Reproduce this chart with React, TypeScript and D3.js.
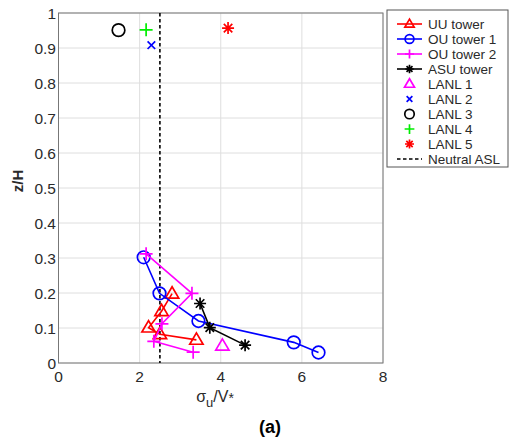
import React from "react";
import * as d3 from "d3";

const uuX = [3.4, 2.5, 2.22, 2.54, 2.8];
const uuY = [0.066, 0.082, 0.101, 0.148, 0.198];
const ou1X = [2.1, 2.49, 3.45, 5.8, 6.41];
const ou1Y = [0.302, 0.199, 0.12, 0.059, 0.03];
const ou2X = [2.16, 3.29, 2.55, 2.35, 3.32];
const ou2Y = [0.312, 0.199, 0.112, 0.062, 0.031];
const asuX = [3.49, 3.73, 4.6];
const asuY = [0.17, 0.101, 0.051];
const lanlNames = ["LANL 1", "LANL 2", "LANL 3", "LANL 4", "LANL 5"];
const lanlX = [4.04, 2.29, 1.48, 2.16, 4.18];
const lanlY = [0.049, 0.908, 0.951, 0.952, 0.957];
const neutralX = 2.5;
const xTicks = [0, 2, 4, 6, 8];
const yTicks = [0, 0.1, 0.2, 0.3, 0.4, 0.5, 0.6, 0.7, 0.8, 0.9, 1];
const yTickLabels = ["0", "0.1", "0.2", "0.3", "0.4", "0.5", "0.6", "0.7", "0.8", "0.9", "1"];

const L = 58.5, R = 383, T = 13, B = 363;
const x = d3.scaleLinear().domain([0, 8]).range([L, R]);
const y = d3.scaleLinear().domain([0, 1]).range([B, T]);

const RED = "#ff0000", BLUE = "#0000ff", MAG = "#ff00ff", BLK = "#000000", GRN = "#00ee00";

type MK = "tri" | "circ" | "plus" | "star" | "x";

function Marker({ kind, cx, cy, color, s = 1 }: { kind: MK; cx: number; cy: number; color: string; s?: number }) {
  const sw = 1.7;
  if (kind === "tri") {
    const r = 7 * s;
    const p = `${cx},${cy - r} ${cx + r * 0.95},${cy + r * 0.62} ${cx - r * 0.95},${cy + r * 0.62}`;
    return <polygon points={p} fill="none" stroke={color} strokeWidth={sw} />;
  }
  if (kind === "circ") return <circle cx={cx} cy={cy} r={6.3 * s} fill="none" stroke={color} strokeWidth={sw} />;
  if (kind === "plus") {
    const r = 6.5 * s;
    return <path d={`M${cx - r},${cy}H${cx + r}M${cx},${cy - r}V${cy + r}`} stroke={color} strokeWidth={sw} />;
  }
  if (kind === "x") {
    const r = 3.8 * s;
    return <path d={`M${cx - r},${cy - r}L${cx + r},${cy + r}M${cx - r},${cy + r}L${cx + r},${cy - r}`} stroke={color} strokeWidth={sw} />;
  }
  const r = 6 * s;
  const d = [0, 45, 90, 135].map((a) => {
    const rad = (a * Math.PI) / 180;
    const dx = Math.cos(rad) * r, dy = Math.sin(rad) * r;
    return `M${cx - dx},${cy - dy}L${cx + dx},${cy + dy}`;
  }).join("");
  return <path d={d} stroke={color} strokeWidth={sw} />;
}

const series = [
  { name: "UU tower", xs: uuX, ys: uuY, color: RED, kind: "tri" as MK },
  { name: "OU tower 1", xs: ou1X, ys: ou1Y, color: BLUE, kind: "circ" as MK },
  { name: "OU tower 2", xs: ou2X, ys: ou2Y, color: MAG, kind: "plus" as MK },
  { name: "ASU tower", xs: asuX, ys: asuY, color: BLK, kind: "star" as MK },
];
const lanlStyle: { color: string; kind: MK }[] = [
  { color: MAG, kind: "tri" },
  { color: BLUE, kind: "x" },
  { color: BLK, kind: "circ" },
  { color: GRN, kind: "plus" },
  { color: RED, kind: "star" },
];

export default function App() {
  const line = d3.line<[number, number]>().x((d) => x(d[0])).y((d) => y(d[1]));
  const font = "Arial, Liberation Sans, sans-serif";
  const legX = 387, legY = 10, legW = 121, legH = 157, rowH = 15, row0 = 24;
  const txt = "#2a2a2a";
  const lfs = 13.5;
  return (
    <svg width={510} height={446} style={{ position: "absolute", left: 0, top: 0 }} fontFamily={font}>
      <rect width={510} height={446} fill="#fff" />
      {xTicks.map((t) => (
        <line key={"gx" + t} x1={x(t)} x2={x(t)} y1={T} y2={B} stroke="#dedede" strokeWidth={1} />
      ))}
      {yTicks.map((t) => (
        <line key={"gy" + t} x1={L} x2={R} y1={y(t)} y2={y(t)} stroke="#dedede" strokeWidth={1} />
      ))}
      <rect x={L} y={T} width={R - L} height={B - T} fill="none" stroke="#777" strokeWidth={1} />
      {xTicks.map((t) => (
        <text key={"tx" + t} x={x(t)} y={B + 19} textAnchor="middle" fontSize={15.5} fill={txt}>{t}</text>
      ))}
      {yTicks.map((t, i) => (
        <text key={"ty" + t} x={L - 2.5} y={y(t) + 5.5} textAnchor="end" fontSize={15.5} fill={txt}>{yTickLabels[i]}</text>
      ))}
      <text transform={`translate(23,${y(0.52)}) rotate(-90)`} textAnchor="middle" fontSize={15} fontWeight="bold" fill={txt}>z/H</text>
      <text x={215} y={402} textAnchor="middle" fontSize={16} fill={txt}>
        σ<tspan fontSize={13} dy={5}>u</tspan><tspan dy={-5}>/V</tspan><tspan fontSize={14} dy={1}>*</tspan>
      </text>
      <text x={270} y={433} textAnchor="middle" fontSize={18} fontWeight="bold" fill="#000">(a)</text>

      <line x1={x(neutralX)} x2={x(neutralX)} y1={T} y2={B} stroke="#000" strokeWidth={1.6} strokeDasharray="3.5,2.5" />

      {series.map((s) => (
        <g key={s.name}>
          <path d={line(s.xs.map((v, i) => [v, s.ys[i]]) as [number, number][]) || ""} fill="none" stroke={s.color} strokeWidth={1.6} />
          {s.xs.map((v, i) => (
            <Marker key={i} kind={s.kind} cx={x(v)} cy={y(s.ys[i])} color={s.color} />
          ))}
        </g>
      ))}
      {lanlX.map((v, i) => (
        <Marker key={"l" + i} kind={lanlStyle[i].kind} cx={x(v)} cy={y(lanlY[i])} color={lanlStyle[i].color} />
      ))}

      <rect x={legX} y={legY} width={legW} height={legH} fill="#fff" stroke="#555" strokeWidth={1} />
      {series.map((s, i) => {
        const cy = row0 + i * rowH;
        return (
          <g key={"lg" + i}>
            <line x1={legX + 10} x2={legX + 35} y1={cy} y2={cy} stroke={s.color} strokeWidth={1.6} />
            <Marker kind={s.kind} cx={legX + 22.5} cy={cy} color={s.color} s={0.7} />
            <text x={legX + 41} y={cy + 4.8} fontSize={lfs} fill={txt}>{s.name}</text>
          </g>
        );
      })}
      {lanlNames.map((n, i) => {
        const cy = row0 + (i + 4) * rowH;
        return (
          <g key={"ll" + i}>
            <Marker kind={lanlStyle[i].kind} cx={legX + 22.5} cy={cy} color={lanlStyle[i].color} s={0.75} />
            <text x={legX + 41} y={cy + 4.8} fontSize={lfs} fill={txt}>{n}</text>
          </g>
        );
      })}
      {(() => {
        const cy = row0 + 9 * rowH;
        return (
          <g>
            <line x1={legX + 10} x2={legX + 35} y1={cy} y2={cy} stroke="#000" strokeWidth={1.5} strokeDasharray="3.5,2.5" />
            <text x={legX + 41} y={cy + 4.8} fontSize={lfs} fill={txt}>Neutral ASL</text>
          </g>
        );
      })()}
    </svg>
  );
}
